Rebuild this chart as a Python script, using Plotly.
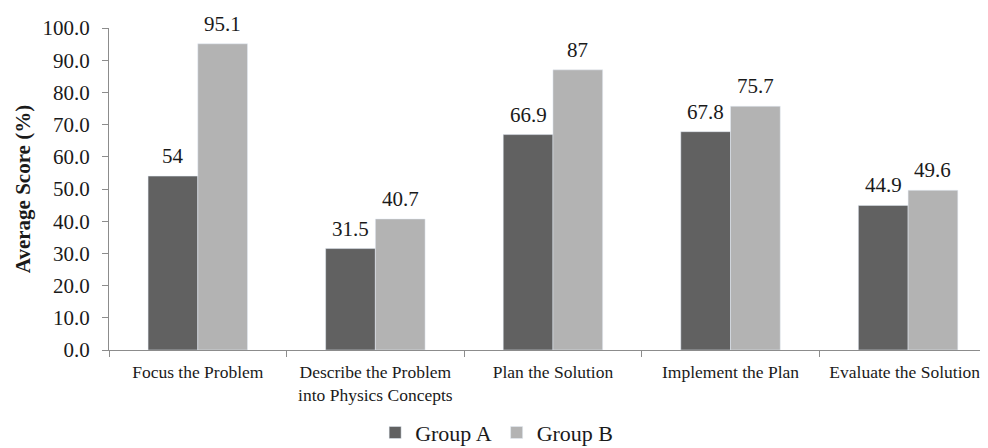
import plotly.graph_objects as go

categories = ["Focus the Problem", "Describe the Problem<br>into Physics Concepts",
              "Plan the Solution", "Implement the Plan", "Evaluate the Solutions"]
group_a = [54, 31.5, 66.9, 67.8, 44.9]
group_b = [95.1, 40.7, 87, 75.7, 49.6]
labels_a = ["54", "31.5", "66.9", "67.8", "44.9"]
labels_b = ["95.1", "40.7", "87", "75.7", "49.6"]
y_ticks = [0, 10, 20, 30, 40, 50, 60, 70, 80, 90, 100]

xs = list(range(len(categories)))
font_family = "Liberation Serif, Times New Roman, serif"
bargap = 0.44
half = (1 - bargap) / 4  # offset of each bar centre from the category centre

fig = go.Figure()
fig.add_trace(go.Bar(x=xs, y=group_a, name="Group A", marker_color="#616161"))
fig.add_trace(go.Bar(x=xs, y=group_b, name="Group B", marker_color="#b3b3b3"))

annotations = []
for i, (va, la, vb, lb) in enumerate(zip(group_a, labels_a, group_b, labels_b)):
    for xv, v, t in ((i - half, va, la), (i + half, vb, lb)):
        annotations.append(dict(x=xv, y=v, xref="x", yref="y", text=t, showarrow=False,
                                yanchor="bottom", xanchor="center", yshift=6,
                                font=dict(size=21, color="#1a1a1a", family=font_family)))

fig.update_layout(
    width=988, height=448,
    margin=dict(l=101, r=8, t=20, b=106),
    paper_bgcolor="white", plot_bgcolor="white",
    barmode="group", bargap=bargap, bargroupgap=0,
    font=dict(family=font_family, color="#1a1a1a"),
    legend=dict(orientation="h", x=0.441, xanchor="center",
                yref="container", y=0.052, yanchor="middle",
                font=dict(size=22), itemwidth=30, traceorder="normal"),
    showlegend=True,
    annotations=annotations,
)
fig.update_xaxes(
    range=[-0.5, 4.45], tickvals=xs, ticktext=categories, automargin=False,
    showline=True, linecolor="#8c8c8c", linewidth=1,
    ticks="", tickfont=dict(size=17.5), showgrid=False, zeroline=False,
    ticklabelstandoff=6,
    minor=dict(tickmode="linear", tick0=-0.5, dtick=1, ticks="outside", ticklen=6,
               tickcolor="#8c8c8c", showgrid=False),
)
fig.update_yaxes(
    range=[0, 100], tickvals=y_ticks, ticktext=[f"{v:.1f}" for v in y_ticks],
    automargin=False,
    showline=True, linecolor="#8c8c8c", linewidth=1,
    ticks="outside", ticklen=6, tickcolor="#8c8c8c", ticklabelstandoff=8,
    tickfont=dict(size=21), showgrid=False, zeroline=False,
    title=dict(text="<b>Average Score (%)</b>", font=dict(size=21), standoff=6),
)

fig.write_html("out.html", config={"displayModeBar": False})
